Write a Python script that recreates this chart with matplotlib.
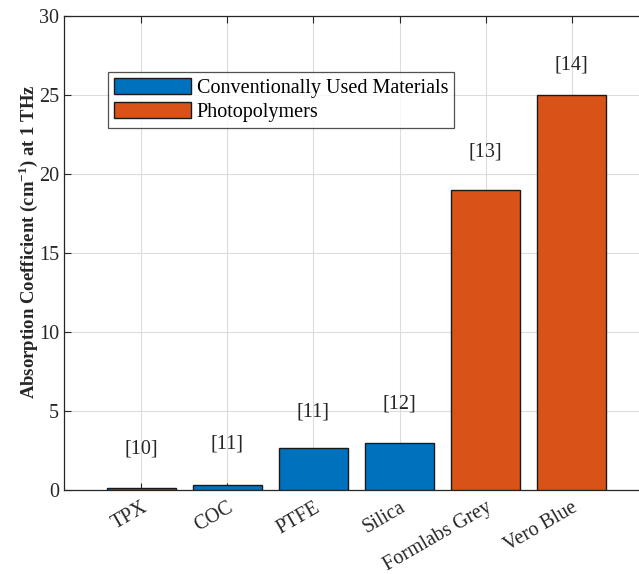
import matplotlib
matplotlib.use('Agg')
import matplotlib.pyplot as plt
from matplotlib.patches import Patch

# Data
materials = ['TPX', 'COC', 'PTFE', 'Silica', 'Formlabs Grey', 'Vero Blue']
absorption = [0.12, 0.3, 2.65, 2.95, 19.0, 25.0]
refs = ['[10]', '[11]', '[11]', '[12]', '[13]', '[14]']
groups = ['conv', 'conv', 'conv', 'conv', 'photo', 'photo']

BLUE = '#0072BD'
ORANGE = '#D95319'
FS = 14.5
# gap between bar top and its reference label, in data units
ref_gap = [2.5, 2.6, 2.3, 2.5, 2.4, 1.9]

plt.rcParams['font.family'] = ['Liberation Serif', 'DejaVu Serif']
plt.rcParams['mathtext.fontset'] = 'custom'
plt.rcParams['mathtext.rm'] = 'Liberation Serif'
plt.rcParams['mathtext.bf'] = 'Liberation Serif:bold'

fig = plt.figure(figsize=(6.39, 5.74), dpi=100)
W, H = 639, 574
# axes runs past the right edge of the figure, as in the original export
ax = fig.add_axes([64 / W, (H - 490) / H, 585 / W, 474 / H])

x = list(range(1, len(materials) + 1))
colors = [BLUE if g == 'conv' else ORANGE for g in groups]
ax.bar(x, absorption, width=0.8, color=colors, edgecolor='#1a1a1a', linewidth=1.0, zorder=3)

for xi, v, r, g in zip(x, absorption, refs, ref_gap):
    ax.text(xi, v + g, r, ha='center', va='center', fontsize=FS, color='#262626', zorder=4)

ax.set_xlim(0.1, 6.9)
ax.set_ylim(0, 30)
ax.set_yticks(range(0, 31, 5))
ax.set_xticks(x)
ax.set_xticklabels(materials, rotation=30, ha='right', rotation_mode='anchor', fontsize=FS)
ax.tick_params(axis='both', direction='in', length=5, width=0.8, colors='#262626',
               labelsize=FS, top=True, right=True)
ax.tick_params(axis='x', pad=6)
ax.grid(True, color='#dcdcdc', linewidth=0.8, zorder=0)
ax.set_axisbelow(True)
for s in ax.spines.values():
    s.set_color('#262626')
    s.set_linewidth(0.9)

ax.set_ylabel(r'Absorption Coefficient (cm$^{\mathbf{-1}}$) at 1 THz', fontsize=13.5,
              fontweight='bold', color='#262626')
ax.yaxis.set_label_coords(-24 / 585, (490 - 242) / 474)

handles = [Patch(facecolor=BLUE, edgecolor='#1a1a1a', label='Conventionally Used Materials'),
           Patch(facecolor=ORANGE, edgecolor='#1a1a1a', label='Photopolymers')]
leg = ax.legend(handles=handles, loc='upper left', bbox_to_anchor=((108 - 64) / 585, (490 - 72) / 474),
                fontsize=FS, frameon=True, fancybox=False, edgecolor='#262626',
                handlelength=3.8, handleheight=0.85, handletextpad=0.3, labelspacing=0.2,
                borderpad=0.3, borderaxespad=0.0)
leg.get_frame().set_linewidth(0.9)

fig.savefig('out.png', dpi=100)
